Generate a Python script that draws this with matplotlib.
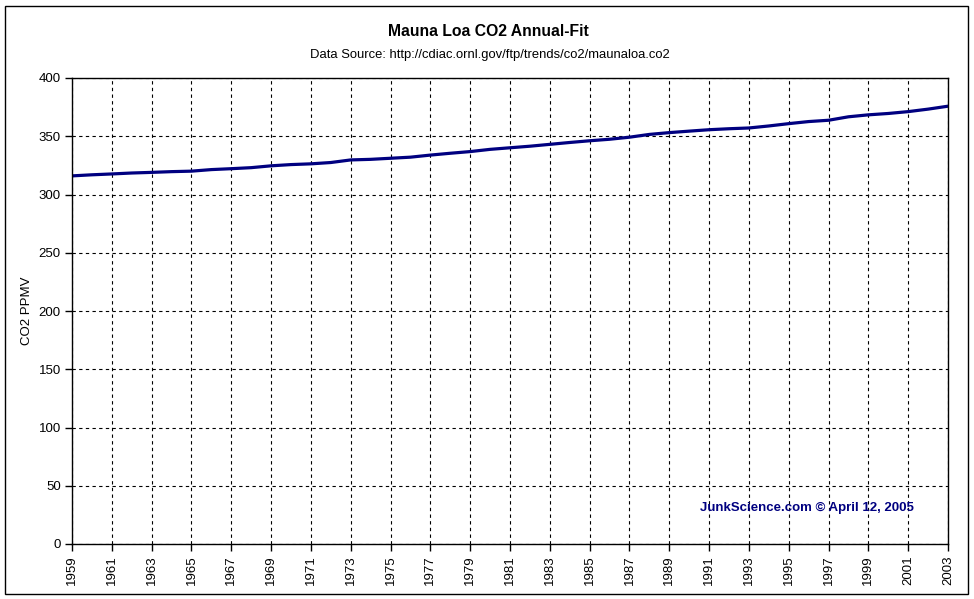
import matplotlib
matplotlib.use("Agg")
import matplotlib.pyplot as plt
from matplotlib.patches import Rectangle

years = list(range(1959, 2004))
co2 = [315.98, 316.91, 317.64, 318.45, 318.99, 319.62, 320.04, 321.38, 322.16, 323.04,
       324.62, 325.68, 326.32, 327.45, 329.68, 330.18, 331.11, 332.04, 333.83, 335.40,
       336.84, 338.75, 340.11, 341.45, 343.05, 344.65, 346.12, 347.42, 349.19, 351.57,
       353.12, 354.39, 355.61, 356.45, 357.10, 358.83, 360.82, 362.61, 363.73, 366.70,
       368.38, 369.55, 371.14, 373.28, 375.80]
xtick_years = list(range(1959, 2004, 2))
yticks = list(range(0, 401, 50))

title = "Mauna Loa CO2 Annual-Fit"
subtitle = "Data Source: http://cdiac.ornl.gov/ftp/trends/co2/maunaloa.co2"
ylabel = "CO2 PPMV"
credit = "JunkScience.com \u00a9 April 12, 2005"

plt.rcParams['font.family'] = ['Liberation Sans', 'DejaVu Sans']

W, H = 974, 599
fig = plt.figure(figsize=(W / 100, H / 100), dpi=100)
fig.patch.set_facecolor("white")

# outer border
fig.add_artist(Rectangle((5 / W, 1 - 594 / H), (968 - 5) / W, (594 - 6) / H,
                         transform=fig.transFigure, fill=False, edgecolor="black", linewidth=1.0))

left, right, top, bottom = 72, 948, 78, 544
ax = fig.add_axes([left / W, 1 - bottom / H, (right - left) / W, (bottom - top) / H])

ax.plot(years, co2, color="#000080", linewidth=2.3, solid_joinstyle="miter")
ax.set_xlim(1959, 2003)
ax.set_ylim(0, 400)
ax.set_xticks(xtick_years)
ax.set_xticklabels([str(y) for y in xtick_years], rotation=90, fontsize=9.5)
ax.set_yticks(yticks)
ax.set_yticklabels([str(v) for v in yticks], fontsize=9.5)
ax.tick_params(axis="both", direction="out", length=5, width=1, colors="black", pad=3)
ax.grid(True, color="black", linestyle=(0, (3, 3)), linewidth=0.8)
for s in ax.spines.values():
    s.set_linewidth(1.0)
ax.set_ylabel(ylabel, fontsize=9.5, labelpad=4)

fig.text(488 / W, 1 - 31 / H, title, ha="center", va="center",
         fontsize=11.3, fontweight="bold")
fig.text(490 / W, 1 - 55 / H, subtitle, ha="center", va="center",
         fontsize=9.4)
fig.text(807 / W, 1 - 508 / H, credit, ha="center", va="center", fontsize=9.5,
         fontweight="bold", color="#000080")

fig.savefig("out.png", dpi=100, facecolor="white")
